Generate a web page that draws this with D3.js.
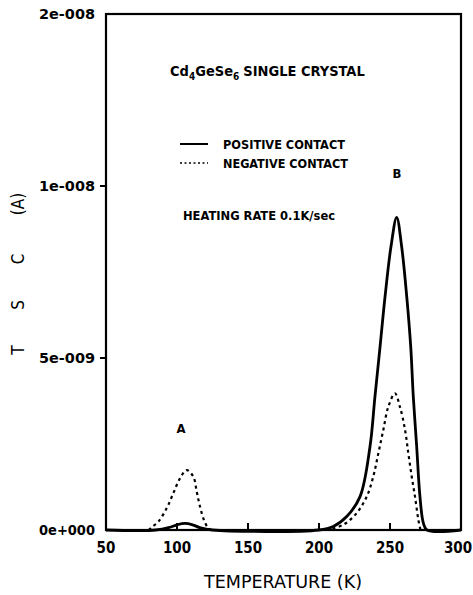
<!DOCTYPE html>
<html>
<head>
<meta charset="utf-8">
<script src="https://cdn.jsdelivr.net/npm/d3@7"></script>
<style>
  body { margin: 0; background: #fff; }
  text { font-family: "DejaVu Sans Condensed", "DejaVu Sans", sans-serif; font-stretch: condensed; fill: #000; }
</style>
</head>
<body>
<div id="chart"></div>
<script>
// Data (temperature in K, current in units of 1e-9 A)
const posTemp = [50, 85, 95, 100, 105.6, 111, 116, 125, 200, 210, 219.5, 228.9, 235.9, 239.4, 243, 246.5, 250.7, 254.7, 258.2, 261.8, 264.6, 266.4, 268.8, 271.1, 273.5, 276, 300];
const posVal = [0, 0, 0.08, 0.15, 0.19, 0.15, 0.07, 0, 0, 0.1, 0.39, 0.97, 2.42, 3.88, 5.33, 6.78, 8.24, 9.09, 8.24, 6.78, 5.33, 3.88, 2.42, 0.97, 0.2, 0, 0];
const negTempA = [80, 82.2, 86.8, 92.7, 97.4, 102.1, 106.8, 111.5, 113.9, 116.2, 119, 122, 124];
const negValA = [0, 0.08, 0.24, 0.63, 1.07, 1.5, 1.74, 1.55, 1.11, 0.68, 0.29, 0.05, 0];
const negTempB = [205, 217, 226.5, 233.6, 238.2, 241.8, 245.3, 248.8, 253.5, 257, 260.6, 262.9, 265.3, 267.6, 270, 271.5];
const negValB = [0, 0.15, 0.49, 0.97, 1.55, 2.23, 2.91, 3.58, 3.97, 3.58, 2.91, 2.23, 1.55, 0.97, 0.29, 0];
const xTicks = [50, 100, 150, 200, 250, 300];
const yTicks = [0, 5e-9, 1e-8, 1.5e-8];
const yTickLabels = ["0e+000", "5e-009", "1e-008", "2e-008"];
const yTitleParts = ["T", "S", "C", "(A)"];

// Dimensions
const dimensions = {
  width: 473,
  height: 595,
  margin: { top: 14, right: 12, bottom: 65, left: 106 },
};
dimensions.boundedWidth = dimensions.width - dimensions.margin.left - dimensions.margin.right;
dimensions.boundedHeight = dimensions.height - dimensions.margin.top - dimensions.margin.bottom;

const svg = d3.select("#chart").append("svg")
  .attr("width", dimensions.width)
  .attr("height", dimensions.height);
const bounds = svg.append("g")
  .attr("transform", `translate(${dimensions.margin.left},${dimensions.margin.top})`);

// Scales
const xScale = d3.scaleLinear().domain([50, 300]).range([0, dimensions.boundedWidth]);
const yScale = d3.scaleLinear().domain([0, 1.5e-8]).range([dimensions.boundedHeight, 0]);

const toPoints = (ts, vs) => ts.map((t, i) => [t, vs[i] * 1e-9]);
const line = d3.line()
  .x((d) => xScale(d[0]))
  .y((d) => Math.min(yScale(d[1]), dimensions.boundedHeight))
  .curve(d3.curveCatmullRom.alpha(0.5));

// Curves
bounds.append("path")
  .attr("d", line(toPoints(posTemp, posVal)))
  .attr("fill", "none").attr("stroke", "#000").attr("stroke-width", 2.8);
[toPoints(negTempA, negValA), toPoints(negTempB, negValB)].forEach((pts) => {
  bounds.append("path")
    .attr("d", line(pts))
    .attr("fill", "none").attr("stroke", "#000")
    .attr("stroke-width", 2.2).attr("stroke-dasharray", "3,3.5");
});

// Frame
bounds.append("rect")
  .attr("width", dimensions.boundedWidth).attr("height", dimensions.boundedHeight)
  .attr("fill", "none").attr("stroke", "#000").attr("stroke-width", 2.2);

// X ticks (inward) and labels
const xAxis = bounds.append("g");
xAxis.selectAll("line").data(xTicks.slice(1, -1)).join("line")
  .attr("x1", xScale).attr("x2", xScale)
  .attr("y1", dimensions.boundedHeight).attr("y2", dimensions.boundedHeight - 7)
  .attr("stroke", "#000").attr("stroke-width", 2);
xAxis.selectAll("text").data(xTicks).join("text")
  .attr("x", (d) => Math.min(xScale(d), dimensions.boundedWidth - 3))
  .attr("y", dimensions.boundedHeight + 23)
  .attr("text-anchor", "middle")
  .attr("font-size", 15).attr("font-weight", "bold")
  .text((d) => d);

// Y ticks (outward) and labels
const yAxis = bounds.append("g");
yAxis.selectAll("line").data(yTicks.slice(1, -1)).join("line")
  .attr("x1", -6).attr("x2", 0)
  .attr("y1", yScale).attr("y2", yScale)
  .attr("stroke", "#000").attr("stroke-width", 2);
yAxis.selectAll("text").data(yTicks).join("text")
  .attr("x", -11).attr("y", (d) => yScale(d) + 5)
  .attr("text-anchor", "end")
  .attr("font-size", 14).attr("font-weight", "bold")
  .attr("textLength", 56).attr("lengthAdjust", "spacingAndGlyphs")
  .text((d, i) => yTickLabels[i]);

// Axis titles
svg.append("text")
  .attr("x", 283).attr("y", 588)
  .attr("text-anchor", "middle")
  .attr("font-size", 18)
  .attr("textLength", 158).attr("lengthAdjust", "spacingAndGlyphs")
  .text("TEMPERATURE (K)");
const yTitle = svg.append("text")
  .attr("transform", "translate(24,0) rotate(-90)")
  .attr("text-anchor", "middle")
  .attr("font-size", 17);
yTitle.selectAll("tspan").data(yTitleParts).join("tspan")
  .attr("x", (d, i) => [-350, -305, -259, -204][i])
  .text((d) => d);

// Annotations
const title = svg.append("text")
  .attr("x", 170).attr("y", 76)
  .attr("font-size", 14.5).attr("font-weight", "bold");
title.append("tspan").text("Cd");
title.append("tspan").attr("font-size", 10).attr("dy", 4).text("4");
title.append("tspan").attr("dy", -4).text("GeSe");
title.append("tspan").attr("font-size", 10).attr("dy", 4).text("6");
title.append("tspan").attr("dy", -4).attr("dx", 4).text("SINGLE CRYSTAL");

svg.append("line").attr("x1", 180).attr("x2", 208).attr("y1", 144).attr("y2", 144)
  .attr("stroke", "#000").attr("stroke-width", 2);
svg.append("line").attr("x1", 180).attr("x2", 208).attr("y1", 163).attr("y2", 163)
  .attr("stroke", "#000").attr("stroke-width", 1.5).attr("stroke-dasharray", "2,2.5");
svg.append("text").attr("x", 223).attr("y", 149)
  .attr("font-size", 12).attr("font-weight", "bold")
  .attr("textLength", 122).attr("lengthAdjust", "spacingAndGlyphs")
  .text("POSITIVE CONTACT");
svg.append("text").attr("x", 223).attr("y", 168)
  .attr("font-size", 12).attr("font-weight", "bold")
  .attr("textLength", 125).attr("lengthAdjust", "spacingAndGlyphs")
  .text("NEGATIVE CONTACT");
svg.append("text").attr("x", 183).attr("y", 220)
  .attr("font-size", 12).attr("font-weight", "bold")
  .attr("textLength", 152).attr("lengthAdjust", "spacingAndGlyphs")
  .text("HEATING RATE 0.1K/sec");
svg.append("text").attr("x", 397).attr("y", 178)
  .attr("text-anchor", "middle").attr("font-size", 13).attr("font-weight", "bold")
  .text("B");
svg.append("text").attr("x", 181).attr("y", 433)
  .attr("text-anchor", "middle").attr("font-size", 13).attr("font-weight", "bold")
  .text("A");
</script>
</body>
</html>
